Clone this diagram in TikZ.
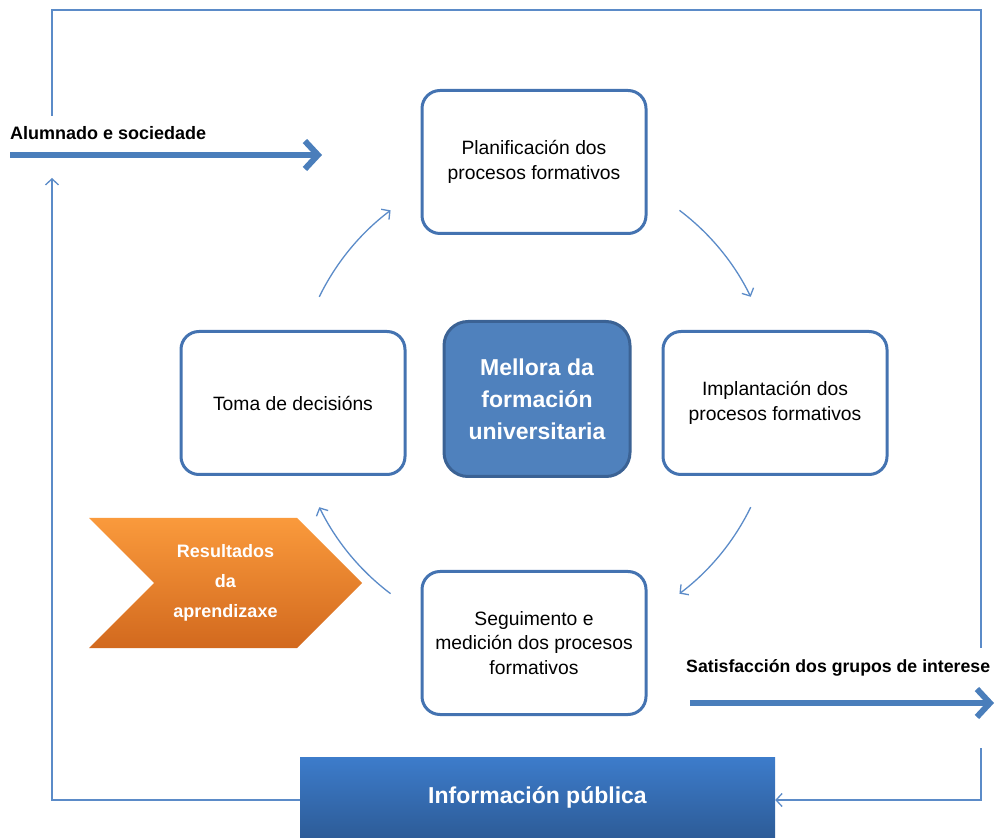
\documentclass[tikz,border=0pt]{standalone}
\usepackage{fontspec}
\setmainfont{Liberation Sans}
\usepackage{xcolor}
\usetikzlibrary{positioning,shapes.symbols,arrows.meta}

\definecolor{bord}{HTML}{4473B1}
\definecolor{thinblue}{HTML}{5B8BC8}
\definecolor{bigblue}{HTML}{4A7EBB}
\definecolor{mfill}{HTML}{4F81BD}
\definecolor{mbord}{HTML}{3B6294}
\definecolor{infotop}{HTML}{3D7CCB}
\definecolor{infobot}{HTML}{2D5C98}
\definecolor{orangetop}{HTML}{FA9A3C}
\definecolor{orangebot}{HTML}{D2691E}

\begin{document}
\begin{tikzpicture}[x=1pt,y=1pt,
  box/.style={draw=bord,line width=3pt,rounded corners=18pt,fill=white,
    minimum width=224pt,minimum height=143pt,align=center,
    font=\fontsize{19.3}{24.5}\selectfont},
  frame/.style={draw=thinblue,line width=1.3pt},
  cyc/.style={draw=thinblue,line width=1.3pt,-{Straight Barb[length=6pt,width=13pt]}},
  bigarrow/.style={draw=bigblue,line width=6pt,-{Straight Barb[length=13pt,width=28pt]}},
  lbl/.style={font=\bfseries\fontsize{18}{20}\selectfont,inner sep=0pt}]
\useasboundingbox (0,0) rectangle (995,838);

% cycle boxes
\node[box] (plan) at (534,676) {Planificación dos\\procesos formativos};
\node[box] (impl) at (775,435) {Implantación dos\\procesos formativos};
\node[box] (segu) at (534,195) {Seguimento e\\medición dos procesos\\formativos};
\node[box] (toma) at (293,435) {Toma de decisións};
\node[draw=mbord,fill=mfill,line width=3pt,rounded corners=24pt,
  minimum width=186pt,minimum height=155pt,align=center,text=white,
  font=\bfseries\fontsize{23}{32}\selectfont] (mell) at (537,439)
  {Mellora da\\formación\\universitaria};

% arrows of the cycle
\coordinate (c) at (535,436);
\foreach \a in {154,53,-26,-127}
  \draw[cyc] ([shift={(\a:240)}]c) arc[start angle=\a,delta angle=-27,radius=240];

% results
\node[signal,signal from=west,signal to=east,signal pointer angle=90,
  minimum width=273pt,minimum height=130pt,inner sep=0pt,
  top color=orangetop,bottom color=orangebot,align=center,text=white,
  font=\bfseries\fontsize{18}{30}\selectfont] (resu) at (225.5,255)
  {Resultados\\da\\aprendizaxe};

% public information
\node[minimum width=475pt,minimum height=80pt,inner sep=0pt,
  top color=infotop,bottom color=infobot,text=white,
  font=\bfseries\fontsize{23}{26}\selectfont] (info) at (537.5,41) {Información pública};

% outer loop
\coordinate (lup) at (52,660);
\coordinate (ltop) at (52,722);
\coordinate (rtop) at (981,828);
\coordinate (rbot) at (981,190);
\coordinate (rlow) at (981,90);
\draw[frame,-{Straight Barb[length=6pt,width=13pt]}] ([yshift=-3pt]info.west) -| (lup);
\draw[frame] (ltop) |- (rtop) -- (rbot);
\draw[frame,-{Straight Barb[length=6pt,width=13pt]}] (rlow) |- ([yshift=-3pt]info.east);

% inputs and outputs
\node[lbl,anchor=west] (alum) at (10,705) {Alumnado e sociedade};
\coordinate (aS) at (10,683);
\coordinate (aE) at (322,683);
\draw[bigarrow] (aS) -- (aE);
\node[lbl,anchor=west,font=\bfseries\fontsize{17.7}{20}\selectfont] (sati) at (686,170) {Satisfacción dos grupos de interese};
\coordinate (sS) at (690,135);
\coordinate (sE) at (994,135);
\draw[bigarrow] (sS) -- (sE);
\end{tikzpicture}
\end{document}
